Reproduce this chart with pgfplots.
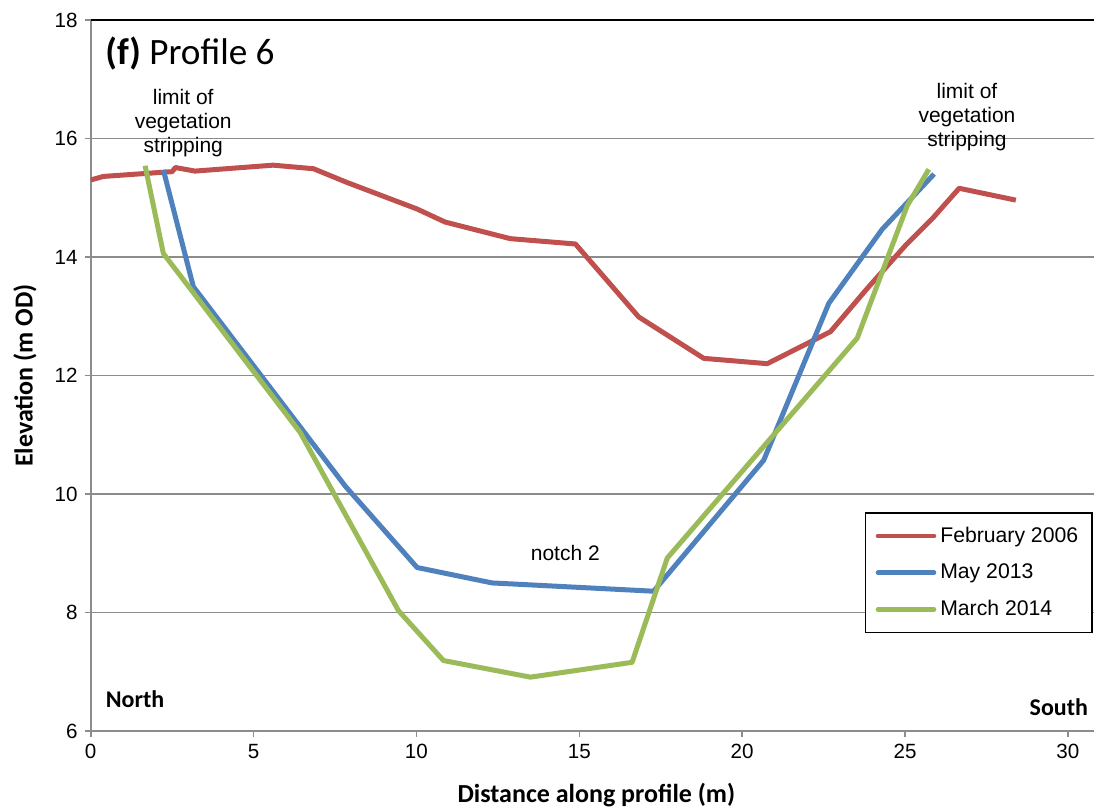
\documentclass[border=0pt]{standalone}
\usepackage{fontspec}
\setmainfont{Liberation Sans}
\newfontfamily\carlito{Carlito}
\usepackage{pgfplots}
\pgfplotsset{compat=1.18}
\definecolor{cred}{HTML}{C0504D}
\definecolor{cblue}{HTML}{4F81BD}
\definecolor{cgreen}{HTML}{9BBB59}
\definecolor{gridgray}{HTML}{8C8C8C}
\begin{document}
\begin{tikzpicture}
\begin{axis}[
  scale only axis,
  width=501.6pt, height=355.5pt,
  xmin=0, xmax=30.8, ymin=6, ymax=18,
  xtick={0,5,...,30}, ytick={6,8,...,18},
  axis x line*=bottom, axis y line*=left,
  axis line style={gridgray, line width=0.9pt, -},
  tick style={gridgray, line width=0.8pt},
  tick align=outside, major tick length=3pt,
  ymajorgrids, grid style={gridgray, line width=0.8pt},
  /pgf/number format/assume math mode=true,
  tick label style={font=\fontsize{10.3}{12}\selectfont},
  xlabel={Distance along profile (m)},
  ylabel={Elevation (m OD)},
  label style={font=\carlito\bfseries\fontsize{13}{15}\selectfont},
  xlabel style={at={(axis description cs:0.504,-0.09)}, anchor=center},
  ylabel style={at={(axis description cs:-0.0655,0.5)}, anchor=center},
  legend style={at={(rel axis cs:0.999,0.308)}, anchor=north east, draw=black, line width=0.8pt,
    font=\fontsize{10.6}{12}\selectfont, row sep=5.3pt, inner xsep=5pt, inner ysep=5pt},
  legend cell align=left,
  legend image code/.code={\draw[line width=2.3pt, line cap=round] (0pt,0pt) -- (28pt,0pt);},
  every axis plot/.append style={line width=2.5pt, line join=round, mark=none},
]
\addplot[cred] coordinates {
(0,15.30) (0.39,15.36) (2.2,15.43) (2.5,15.44) (2.6,15.51) (3.2,15.45) (5.6,15.55) (6.84,15.49)
(7.86,15.26) (10.02,14.81) (10.88,14.59) (12.88,14.31) (14.88,14.22) (16.82,12.99) (18.82,12.29)
(20.77,12.2) (22.71,12.74) (23.84,13.47) (25.02,14.2) (25.84,14.65) (26.66,15.16) (28.4,14.96)};
\addlegendentry{February 2006}
\addplot[cblue] coordinates {
(2.23,15.47) (3.15,13.5) (7.82,10.13) (10.02,8.76) (12.32,8.5) (17.28,8.36) (20.66,10.57)
(22.66,13.22) (24.3,14.47) (25.89,15.4)};
\addlegendentry{May 2013}
\addplot[cgreen] coordinates {
(1.67,15.54) (2.23,14.06) (6.43,11.04) (9.45,8.03) (10.83,7.19) (13.5,6.91) (16.62,7.16)
(17.7,8.92) (23.53,12.63) (25.07,14.87) (25.73,15.48)};
\addlegendentry{March 2014}
\draw[black, line width=0.9pt] (rel axis cs:0,1) -- (rel axis cs:1,1);
\node[anchor=west, inner sep=0pt, font=\carlito\fontsize{18.6}{20}\selectfont] at (axis cs:0.44,17.43) {\textbf{(f)} Profile 6};
\node[align=center, font=\fontsize{10.5}{12}\selectfont] at (axis cs:2.84,16.26) {limit of\\vegetation\\stripping};
\node[align=center, font=\fontsize{10.5}{12}\selectfont] at (axis cs:26.9,16.36) {limit of\\vegetation\\stripping};
\node[font=\fontsize{10.5}{12}\selectfont] at (axis cs:14.57,9.0) {notch 2};
\node[font=\carlito\bfseries\fontsize{12}{14}\selectfont] at (axis cs:1.36,6.53) {North};
\node[font=\carlito\bfseries\fontsize{12}{14}\selectfont] at (axis cs:29.72,6.41) {South};
\end{axis}
\pgfresetboundingbox
\path (current axis.south west) ++(-45.35pt,-38.5pt) rectangle ([yshift=10pt]current axis.north east);
\end{tikzpicture}
\end{document}
